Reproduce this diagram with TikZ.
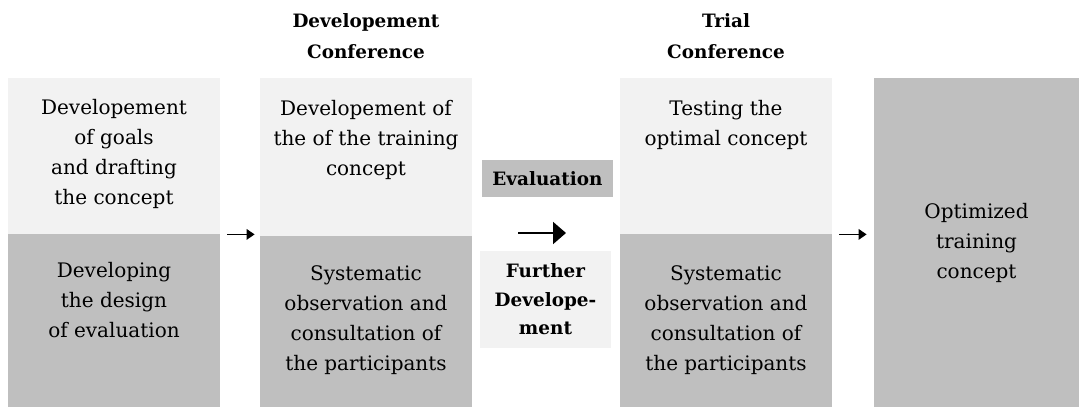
\documentclass[tikz,border=0pt]{standalone}
\usepackage{fontspec}
\setmainfont{DejaVu Serif}
\usetikzlibrary{arrows.meta}

\definecolor{lightgr}{HTML}{F2F2F2}
\definecolor{darkgr}{HTML}{BFBFBF}

\tikzset{
  light/.style = {fill=lightgr, inner sep=0pt, minimum width=106pt},
  dark/.style = {fill=darkgr, inner sep=0pt, minimum width=106pt},
  txt/.style = {anchor=north, align=center, inner sep=0pt, font=\fontsize{10}{15}\selectfont},
  head/.style = {anchor=north, align=center, inner sep=0pt, font=\bfseries\fontsize{9.2}{15.5}\selectfont},
  arr/.style = {line width=0.65pt, -{Triangle[length=4pt,width=5.3pt]}},
  bigarr/.style = {line width=1pt, -{Triangle[length=6.5pt,width=11pt]}}
}

\begin{document}
\begin{tikzpicture}[x=0.5pt, y=-0.5pt]
  \useasboundingbox (0,0) rectangle (1079,407);
  \node[light, minimum height=78pt] (1a) at (114,156) {};
  \node[dark, minimum height=86.5pt] (1b) at (114,320.5) {};
  \node[light, minimum height=79pt] (2a) at (366,157) {};
  \node[dark, minimum height=85.5pt] (2b) at (366,321.5) {};
  \node[light, minimum height=78pt] (3a) at (726,156) {};
  \node[dark, minimum height=86.5pt] (3b) at (726,320.5) {};
  \node[dark, minimum width=102.5pt, minimum height=164.5pt, align=center,
        font=\fontsize{10}{15}\selectfont] (4) at (976.5,242.5) {Optimized\\training\\concept};
  \node[dark, minimum width=65.5pt, minimum height=18.5pt,
        font=\bfseries\fontsize{9.2}{15.5}\selectfont] (eval) at (547.5,178.5) {Evaluation};
  \node[light, minimum width=65.5pt, minimum height=48.5pt, align=center,
        font=\bfseries\fontsize{9.2}{14.25}\selectfont] (further) at (545.5,299.5) {Further\\Develope-\\ment};
  \node[head] (h2) at (366,13) {Developement\\Conference};
  \node[head] (h3) at (726,13) {Trial\\Conference};
  \node[txt] (t1a) at (114,99) {Developement\\of goals\\and drafting\\the concept};
  \node[txt] (t1b) at (114,262) {Developing\\the design\\of evaluation};
  \node[txt] (t2a) at (366,100) {Developement of\\the of the training\\concept};
  \node[txt] (t2b) at (366,265) {Systematic\\observation and\\consultation of\\the participants};
  \node[txt] (t3a) at (726,100) {Testing the\\optimal concept};
  \node[txt] (t3b) at (726,265) {Systematic\\observation and\\consultation of\\the participants};
  \coordinate (b0) at (518,233);
  \coordinate (b1) at (566,233);
  \draw[arr, shorten <=3.5pt, shorten >=2.5pt] (1a.south east) -- (1a.south east -| 2a.west);
  \draw[bigarr] (b0) -- (b1);
  \draw[arr, shorten <=3.5pt, shorten >=3.5pt] (3a.south east) -- (3a.south east -| 4.west);
\end{tikzpicture}
\end{document}
